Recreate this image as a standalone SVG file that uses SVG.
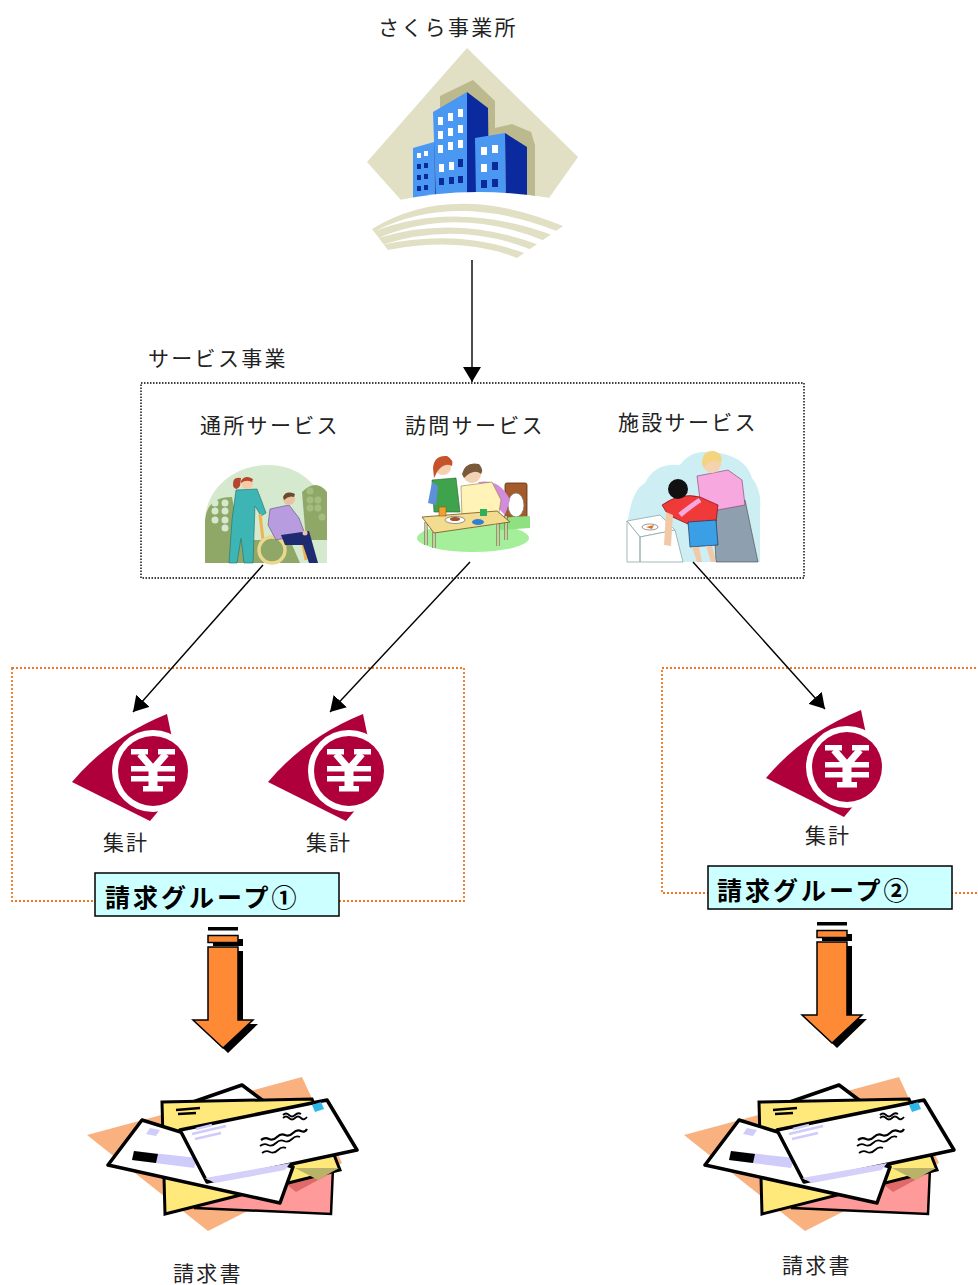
<svg xmlns="http://www.w3.org/2000/svg" xmlns:xlink="http://www.w3.org/1999/xlink" width="978" height="1285" viewBox="0 0 978 1285">
  <style>
    .lbl { font-family: "Noto Sans CJK JP", "Noto Sans CJK SC", sans-serif; font-size: 21px; fill: #222; letter-spacing: 2.3px; }
    .grp { font-family: "Noto Sans CJK JP", "Noto Sans CJK SC", sans-serif; font-size: 25px; font-weight: bold; fill: #000; letter-spacing: 3px; }
    .grp-box { fill: #CCFFFF; stroke: #000; stroke-width: 1.5; }
    .frame-black { fill: none; stroke: #000; stroke-width: 1.4; stroke-dasharray: 1.5 1.5; }
    .frame-orange { fill: none; stroke: #F07820; stroke-width: 1.8; stroke-dasharray: 2 2; }
    .conn { fill: none; stroke: #000; stroke-width: 1.4; marker-end: url(#arrow); }
    .crimson { fill: #B0003C; }
  </style>
  <defs>
    <marker id="arrow" markerUnits="userSpaceOnUse" markerWidth="16" markerHeight="18" refX="15" refY="9" orient="auto">
      <path d="M0,0 L15,9 L0,18 Z" fill="#000"/>
    </marker>

    <!-- yen coin emblem, centred on the coin -->
    <g id="yen-mark">
      <path class="crimson" d="M-81,11 Q-43,-34 14,-57 L19,-33 L8,37 L-3,50 Z"/>
      <circle r="41" fill="#fff"/>
      <circle r="35" class="crimson"/>
      <g fill="#fff">
        <path d="M-13,-17 L0,-2 L13,-17" fill="none" stroke="#fff" stroke-width="7"/>
        <rect x="-22" y="-22" width="17" height="5.5"/>
        <rect x="5" y="-22" width="17" height="5.5"/>
        <rect x="-22" y="-5" width="44" height="5.5"/>
        <rect x="-22" y="5" width="44" height="5.5"/>
        <rect x="-4.5" y="-5" width="9" height="21"/>
        <rect x="-10" y="15" width="20" height="5.5"/>
      </g>
    </g>

    <!-- heavy down arrow with drop shadow -->
    <g id="down-arrow">
      <rect x="208" y="927" width="30" height="3.5" fill="#000"/>
      <rect x="213" y="939" width="30" height="7" fill="#000"/>
      <rect x="208" y="935.5" width="30" height="7" fill="#FF8A36" stroke="#000" stroke-width="1.5"/>
      <path d="M213,951 L243,951 L243,1024 L258,1024 L228,1053 L198,1024 L213,1024 Z" fill="#000"/>
      <path d="M208,947 L238,947 L238,1020 L253,1020 L223,1048 L193,1020 L208,1020 Z" fill="#FF8A36" stroke="#000" stroke-width="1.5"/>
    </g>

    <!-- stack of envelopes -->
    <g id="envelopes">
      <polygon points="87,1135 302,1077 342,1163 208,1231" fill="#F9B27F"/>
      <polygon points="195,1200 333,1168 331,1214 195,1208" fill="#FF9A9A" stroke="#000" stroke-width="2.5"/>
      <polygon points="282,1181 333,1172 296,1192" fill="#E06A6A"/>
      <polygon points="190,1103 242,1085 270,1106" fill="#fff" stroke="#000" stroke-width="3.5" stroke-linejoin="round"/>
      <polygon points="162,1102 312,1099 340,1170 165,1214" fill="#FFE97A" stroke="#000" stroke-width="3"/>
      <polygon points="295,1168 339,1168 318,1180" fill="#B9B36A"/>
      <path d="M176,1110 L200,1108 M178,1114 L196,1113" stroke="#000" stroke-width="2.5"/>
      <polygon points="142,1120 108,1165 280,1203 293,1167" fill="#fff" stroke="#000" stroke-width="3.5" stroke-linejoin="round"/>
      <polygon points="134,1151 198,1158 194,1168 132,1160" fill="#CFCBFA"/>
      <polygon points="134,1151 158,1154 156,1163 132,1160" fill="#000"/>
      <polygon points="150,1128 160,1130 156,1136 146,1134" fill="#CFCBFA"/>
      <polygon points="180,1130 327,1100 357,1150 207,1182" fill="#fff" stroke="#000" stroke-width="3.5" stroke-linejoin="round"/>
      <polygon points="205,1178 290,1163 285,1170 215,1183" fill="#D4D0FA"/>
      <polygon points="312,1105 321,1102 324,1109 315,1112" fill="#2FB6E8"/>
      <g fill="none" stroke="#000" stroke-width="1.8">
        <path d="M283,1118 q3,-3 6,0 t6,0 t6,0 t6,-1"/>
        <path d="M283,1115 q3,-3 6,0 t6,0 t6,-1"/>
        <path d="M261,1140 q4,-3 8,-1 t8,-2 t8,-2 t8,-2 t8,-2 t6,-2" stroke-width="2.2"/>
        <path d="M260,1146 q4,-3 8,-1 t8,-2 t8,-2 t8,-2 t8,-2"/>
        <path d="M262,1153 q4,-3 8,-1 t8,-2 t8,-2"/>
      </g>
      <g stroke="#CFCBFA" stroke-width="2.5">
        <path d="M192,1134 L226,1126 M195,1139 L221,1133 M196,1129 L212,1125"/>
      </g>
    </g>
  </defs>

  <!-- head office -->
  <g id="office">
    <text class="lbl" x="378" y="35">さくら事業所</text>
    <path d="M367,162 L467,48 L578,157 L549,198 Q470,184 401,200 Z" fill="#E1DFC4"/>
    <polygon points="440,96 473,80 495,101 495,128 512,124 531,132 535,145 535,200 440,200" fill="#BDB98F"/>
    <!-- left block -->
    <polygon points="413,148 434,142 435,199 413,199" fill="#4B98F2"/>
    <polygon points="434,142 436,142 437,199 435,199" fill="#1A3FB5"/>
    <g fill="#fff">
      <rect x="417" y="153" width="4" height="5"/><rect x="424" y="151" width="4" height="5"/>
    </g>
    <g fill="#0B2A9A">
      <rect x="417" y="164" width="4" height="5"/><rect x="424" y="163" width="4" height="5"/>
      <rect x="417" y="175" width="4" height="5"/><rect x="424" y="174" width="4" height="5"/>
      <rect x="417" y="186" width="4" height="5"/><rect x="424" y="185" width="4" height="5"/>
    </g>
    <!-- tall block -->
    <polygon points="433,112 467,92 467,196 436,198" fill="#4B98F2"/>
    <polygon points="467,92 488,108 489,196 467,196" fill="#0A2A9E"/>
    <g fill="#fff">
      <rect x="438" y="117" width="5" height="8"/><rect x="448" y="113" width="5" height="8"/><rect x="458" y="109" width="5" height="8"/>
      <rect x="438" y="131" width="5" height="8"/><rect x="448" y="128" width="5" height="8"/><rect x="458" y="125" width="5" height="8"/>
      <rect x="438" y="145" width="5" height="8"/><rect x="448" y="142" width="5" height="8"/><rect x="458" y="140" width="5" height="8"/>
      <rect x="439" y="164" width="5" height="8"/><rect x="449" y="162" width="5" height="8"/>
    </g>
    <g fill="#0B2A9A">
      <rect x="458" y="159" width="5" height="8"/>
      <rect x="439" y="178" width="5" height="7"/><rect x="449" y="177" width="5" height="7"/><rect x="458" y="176" width="5" height="7"/>
    </g>
    <!-- right block -->
    <polygon points="475,138 505,133 506,199 476,197" fill="#4B98F2"/>
    <polygon points="505,133 527,147 527,201 506,199" fill="#0A2A9E"/>
    <g fill="#fff">
      <rect x="481" y="147" width="6" height="8"/><rect x="492" y="145" width="6" height="8"/>
      <rect x="481" y="164" width="6" height="8"/>
    </g>
    <g fill="#0B2A9A">
      <rect x="492" y="162" width="6" height="8"/>
      <rect x="481" y="180" width="6" height="8"/><rect x="492" y="179" width="6" height="8"/>
    </g>
    <!-- ground and swoosh -->
    <path d="M395,201 Q470,184 556,199 L556,215 L395,215 Z" fill="#fff"/>
    <path d="M372,229 Q452,180 563,226 L517,258 Q462,236 388,250 Z" fill="#E1DFC4"/>
    <g fill="#fff">
      <path d="M375,231 Q455,191 557,231 L552,235 Q455,200 375,231 Z"/>
      <path d="M378,238 Q457,205 545,241 L539,245 Q457,214 378,238 Z"/>
      <path d="M381,245 Q459,220 532,250 L527,254 Q459,228 381,245 Z"/>
    </g>
  </g>

  <!-- service unit heading and frame -->
  <g id="service-frame">
    <text class="lbl" x="148" y="366">サービス事業</text>
    <rect class="frame-black" x="141" y="383" width="663" height="195"/>
  </g>

  <!-- day service -->
  <g id="svc-day">
    <text class="lbl" x="200" y="433">通所サービス</text>
    <path d="M205,563 L205,522 C205,488 235,465 268,465 C302,465 327,490 327,522 L327,563 Z" fill="#D5E9CF"/>
    <path d="M205,563 L205,520 Q207,497 232,497 L240,540 L290,540 L300,563 Z" fill="#8FA767"/>
    <path d="M302,492 Q316,478 327,492 L327,540 L306,540 Z" fill="#8FA767"/>
    <g fill="#D5E9CF">
      <circle cx="215" cy="503" r="3.5"/><circle cx="225" cy="503" r="3.5"/>
      <circle cx="215" cy="511" r="3.5"/><circle cx="225" cy="511" r="3.5"/>
      <circle cx="215" cy="520" r="3.5"/><circle cx="225" cy="520" r="3.5"/>
      <circle cx="225" cy="528" r="3.5"/>
    </g>
    <g fill="#A5BC80">
      <circle cx="310" cy="491" r="3.5"/><circle cx="310" cy="500" r="3.5"/><circle cx="318" cy="500" r="3.5"/>
      <circle cx="310" cy="508" r="3.5"/><circle cx="318" cy="508" r="3.5"/><circle cx="322" cy="517" r="3.5"/>
    </g>
    <!-- carer -->
    <path d="M241,478 Q232,476 233,486 Q236,492 240,486 Z" fill="#B5452E"/>
    <path d="M236,490 L257,489 L262,502 L266,513 L261,516 L255,506 L253,563 L244,563 L241,538 L237,563 L229,563 L232,520 Z" fill="#3DB5B5" stroke="#1E6E6E" stroke-width="0.6"/>
    <circle cx="247" cy="483" r="6" fill="#F7C9A5"/>
    <path d="M241,481 Q245,474 253,479 L252,482 Q246,479 241,483 Z" fill="#B5452E"/>
    <!-- wheelchair and passenger -->
    <path d="M260,514 L263,540 L302,540 L306,560" fill="none" stroke="#F0B350" stroke-width="3"/>
    <circle cx="272" cy="550" r="13" fill="#8FA767" stroke="#EAD88E" stroke-width="3.5"/>
    <path d="M270,509 L289,505 L299,518 L305,534 L276,540 L268,525 Z" fill="#B79CE0" stroke="#5A4A80" stroke-width="0.6"/>
    <path d="M281,535 L309,531 L318,563 L309,563 L303,545 L285,545 Z" fill="#1E2B70"/>
    <circle cx="289" cy="499" r="6" fill="#E9C3A1"/>
    <path d="M283,497 Q286,490 295,494 L294,497 Q289,495 284,500 Z" fill="#6B4A2B"/>
    <circle cx="305" cy="533" r="2.5" fill="#E9C3A1"/>
  </g>

  <!-- home-visit service -->
  <g id="svc-visit">
    <text class="lbl" x="405" y="433">訪問サービス</text>
    <ellipse cx="473" cy="538" rx="56" ry="14" fill="#A5EE9A"/>
    <rect x="505" y="483" width="22" height="36" rx="2" fill="#A45A2A" stroke="#5A2E10" stroke-width="0.8"/>
    <ellipse cx="516" cy="505" rx="8" ry="12" fill="#fff" stroke="#777" stroke-width="0.8"/>
    <path d="M496,518 L530,516 L530,528 L500,530 Z" fill="#8FE081"/>
    <!-- patient -->
    <path d="M478,482 Q500,478 510,500 L505,515 L495,505 Z" fill="#D38CDB"/>
    <path d="M461,486 L492,482 L501,500 L498,518 L462,518 Z" fill="#FFF3B8" stroke="#8A7A40" stroke-width="0.6"/>
    <circle cx="472" cy="474" r="9" fill="#F2D3B5"/>
    <path d="M462,474 Q465,461 479,464 Q484,470 481,474 Q474,468 464,478 Z" fill="#7A5A3A"/>
    <!-- carer -->
    <path d="M432,480 L456,478 L460,512 L434,512 Z" fill="#3FA34D" stroke="#245F2C" stroke-width="0.6"/>
    <path d="M432,482 L428,503 L436,505 L438,486 Z" fill="#5E8FDA"/>
    <circle cx="443" cy="467" r="8" fill="#F5CFAF"/>
    <path d="M433,468 Q434,455 447,456 Q454,460 452,466 Q444,462 437,472 L434,478 Z" fill="#C4532C"/>
    <!-- over-bed tray -->
    <path d="M426,522 L426,545 M506,516 L506,540 M434,532 L434,548 M498,522 L498,546" stroke="#555" stroke-width="3"/>
    <path d="M426,522 L426,545 M506,516 L506,540 M434,532 L434,548 M498,522 L498,546" stroke="#F3E7A5" stroke-width="1.6"/>
    <polygon points="422,517 497,511 510,522 434,533" fill="#F3DB8F" stroke="#6E5520" stroke-width="0.8"/>
    <ellipse cx="455" cy="520" rx="10" ry="3.5" fill="#fff" stroke="#555" stroke-width="0.6"/>
    <ellipse cx="455" cy="519" rx="5" ry="2" fill="#A0522D"/>
    <ellipse cx="478" cy="522" rx="6" ry="3" fill="#2F7FD5"/>
    <rect x="480" y="509" width="7" height="7" fill="#2FAF5A"/>
    <rect x="439" y="507" width="7" height="9" fill="#F0A030" stroke="#8a5a10" stroke-width="0.6"/>
  </g>

  <!-- residential service -->
  <g id="svc-facility">
    <text class="lbl" x="618" y="430">施設サービス</text>
    <path d="M628,562 L628,520 Q632,490 645,483 Q655,462 680,465 Q690,450 712,452 Q745,455 752,478 Q762,490 760,510 L760,562 Z" fill="#CDEFF3"/>
    <polygon points="627,521 660,515 675,530 640,537" fill="#fff" stroke="#8AA" stroke-width="0.8"/>
    <path d="M627,521 L640,537 L640,562 L627,562 Z M640,537 L675,530 L683,562 L640,562 Z" fill="#fff" stroke="#8AA" stroke-width="0.8"/>
    <ellipse cx="650" cy="527" rx="8" ry="3" fill="#fff" stroke="#555" stroke-width="0.6"/>
    <path d="M646,527 L654,525 L652,529 Z" fill="#E0701E"/>
    <!-- carer -->
    <path d="M713,505 L745,500 L758,562 L716,562 Z" fill="#8E9FAF" stroke="#444" stroke-width="0.6"/>
    <path d="M697,476 L728,470 L742,480 L745,505 L712,511 L700,500 Z" fill="#F7A8DE" stroke="#7A3A6A" stroke-width="0.6"/>
    <circle cx="712" cy="464" r="9" fill="#F5D2B0"/>
    <path d="M702,464 Q702,450 714,451 Q724,454 721,463 Q712,456 704,468 Z" fill="#F4D57F"/>
    <!-- resident -->
    <path d="M662,505 Q680,492 700,497 L718,505 L716,522 L690,525 L668,515 Z" fill="#F03A3A" stroke="#600" stroke-width="0.6"/>
    <path d="M666,512 L664,545 L671,546 L673,515 Z" fill="#F2C9A6"/>
    <path d="M688,522 L716,520 L718,545 L690,547 Z" fill="#3A9FE5" stroke="#124" stroke-width="0.6"/>
    <path d="M692,547 L697,562 L702,562 L699,547 Z M706,546 L711,562 L716,562 L712,546 Z" fill="#F2C9A6"/>
    <circle cx="678" cy="489" r="10" fill="#111"/>
    <path d="M700,500 Q688,508 680,515" stroke="#F7A8DE" stroke-width="5" fill="none"/>
  </g>

  <!-- billing group frames -->
  <g id="group-1-frame">
    <rect class="frame-orange" x="12" y="668" width="452" height="233"/>
  </g>
  <g id="group-2-frame">
    <path class="frame-orange" d="M980,668 L662,668 L662,893 L980,893"/>
  </g>

  <!-- tally nodes -->
  <g id="tally-1">
    <use xlink:href="#yen-mark" transform="translate(153,771)"/>
    <text class="lbl" x="103" y="850" style="letter-spacing:2px">集計</text>
  </g>
  <g id="tally-2">
    <use xlink:href="#yen-mark" transform="translate(349,771)"/>
    <text class="lbl" x="306" y="850" style="letter-spacing:2px">集計</text>
  </g>
  <g id="tally-3">
    <use xlink:href="#yen-mark" transform="translate(847,767)"/>
    <text class="lbl" x="805" y="843" style="letter-spacing:2px">集計</text>
  </g>

  <!-- group labels -->
  <g id="group-1-label">
    <rect class="grp-box" x="95" y="873" width="244" height="43"/>
    <text class="grp" x="105" y="907">請求グループ①</text>
  </g>
  <g id="group-2-label">
    <rect class="grp-box" x="708" y="866" width="244" height="43"/>
    <text class="grp" x="717" y="900">請求グループ②</text>
  </g>

  <!-- output arrows -->
  <g id="flow-1"><use xlink:href="#down-arrow"/></g>
  <g id="flow-2"><use xlink:href="#down-arrow" transform="translate(609,-5)"/></g>

  <!-- invoices -->
  <g id="invoice-1">
    <use xlink:href="#envelopes"/>
    <text class="lbl" x="173" y="1281">請求書</text>
  </g>
  <g id="invoice-2">
    <use xlink:href="#envelopes" transform="translate(597,0)"/>
    <text class="lbl" x="782" y="1273">請求書</text>
  </g>

  <!-- connectors -->
  <g id="connectors">
    <path class="conn" d="M472,260 L472,382"/>
    <path class="conn" d="M263,565 L133,712"/>
    <path class="conn" d="M470,562 L330,712"/>
    <path class="conn" d="M693,562 L825,709"/>
  </g>
</svg>
